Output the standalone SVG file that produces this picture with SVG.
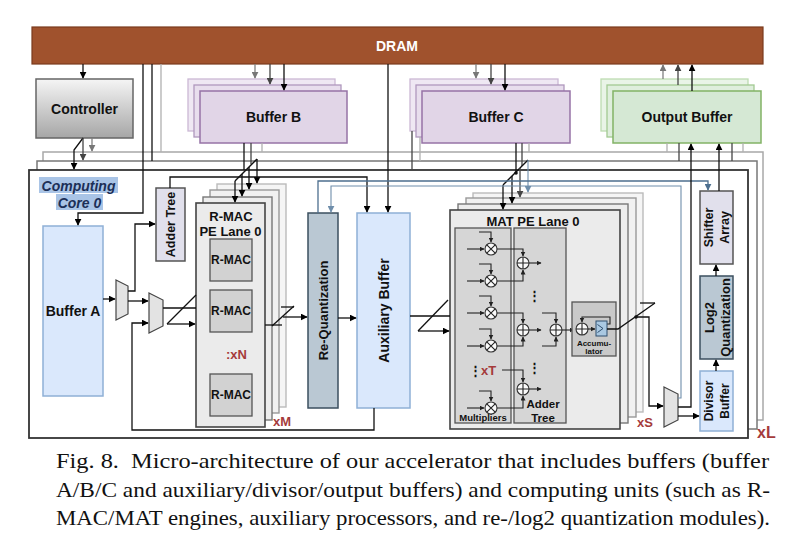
<svg xmlns="http://www.w3.org/2000/svg" width="804" height="557" viewBox="0 0 804 557">
<defs>
<linearGradient id="ctrlGrad" x1="0" y1="0" x2="0" y2="1"><stop offset="0" stop-color="#f5f5f5"/><stop offset="1" stop-color="#a6a6a6"/></linearGradient>
<marker id="ab" viewBox="0 0 10 10" refX="9" refY="5" markerWidth="7" markerHeight="7" markerUnits="userSpaceOnUse" orient="auto"><path d="M0,0 L10,5 L0,10 z" fill="#000"/></marker>
<marker id="ag" viewBox="0 0 10 10" refX="9" refY="5" markerWidth="7" markerHeight="7" markerUnits="userSpaceOnUse" orient="auto"><path d="M0,0 L10,5 L0,10 z" fill="#777"/></marker>
<marker id="ad" viewBox="0 0 10 10" refX="9" refY="5" markerWidth="7" markerHeight="7" markerUnits="userSpaceOnUse" orient="auto"><path d="M0,0 L10,5 L0,10 z" fill="#444"/></marker>
<marker id="abl" viewBox="0 0 10 10" refX="9" refY="5" markerWidth="7" markerHeight="7" markerUnits="userSpaceOnUse" orient="auto"><path d="M0,0 L10,5 L0,10 z" fill="#4d6f8f"/></marker>
<marker id="abl2" viewBox="0 0 10 10" refX="9" refY="5" markerWidth="7" markerHeight="7" markerUnits="userSpaceOnUse" orient="auto"><path d="M0,0 L10,5 L0,10 z" fill="#6f8eab"/></marker>
<marker id="as" viewBox="0 0 10 10" refX="9" refY="5" markerWidth="5" markerHeight="5" markerUnits="userSpaceOnUse" orient="auto"><path d="M0,0 L10,5 L0,10 z" fill="#222"/></marker>
<style>
.t{font-family:"Liberation Sans",Arial,sans-serif;font-weight:bold;fill:#111;text-anchor:middle;dominant-baseline:central}
.red{font-family:"Liberation Sans",Arial,sans-serif;font-weight:bold;fill:#a53b3b;dominant-baseline:central}
.w{fill:none;stroke:#111;stroke-width:1.3}
.g{fill:none;stroke:#808080;stroke-width:1.3}
.lg{fill:none;stroke:#b0b0b0;stroke-width:1.3}
.dg{fill:none;stroke:#444;stroke-width:1.3}
.bl{fill:none;stroke:#4d6f8f;stroke-width:1.3}
.bl2{fill:none;stroke:#6f8eab;stroke-width:1.1}
.mux{fill:#e3e3e3;stroke:#444;stroke-width:1.2}
.op{fill:#fafafa;stroke:#333;stroke-width:1.1}
.iw{fill:none;stroke:#222;stroke-width:1.1}
.cap{font-family:"Liberation Serif","Times New Roman",serif;font-size:21.5px;fill:#111;white-space:pre}
</style>
</defs>
<rect width="804" height="557" fill="#fff"/>

<g id="core-frames">
<rect x="43" y="152" width="720" height="268" fill="#fff" stroke="#a8a8a8" stroke-width="1.5"/>
<rect x="37" y="161" width="720" height="268" fill="#fff" stroke="#777" stroke-width="1.5"/>
<rect x="29" y="170" width="719" height="268" fill="#fff" stroke="#333" stroke-width="1.8"/>
</g>

<g id="dram">
<rect x="32" y="27" width="731" height="37" fill="#a0522d" stroke="#7a3b1d" stroke-width="1.2"/>
<text class="t" x="397" y="45.5" font-size="14" style="fill:#fff">DRAM</text>
</g>

<g id="controller">
<rect x="36" y="79" width="97" height="59" fill="url(#ctrlGrad)" stroke="#666" stroke-width="1.5"/>
<text class="t" x="84.5" y="108.5" font-size="14">Controller</text>
</g>

<g id="buffer-b">
<rect x="188" y="79" width="147" height="52" fill="#efe8f3" stroke="#cbb8d5" stroke-width="1.3"/>
<rect x="194" y="85" width="147" height="52" fill="#e8deed" stroke="#b098bd" stroke-width="1.3"/>
<rect x="200" y="91" width="147" height="52" fill="#e1d5e7" stroke="#9673a6" stroke-width="1.5"/>
<text class="t" x="273.5" y="117" font-size="14">Buffer B</text>
</g>

<g id="buffer-c">
<rect x="410" y="79" width="148" height="52" fill="#efe8f3" stroke="#cbb8d5" stroke-width="1.3"/>
<rect x="416" y="85" width="148" height="52" fill="#e8deed" stroke="#b098bd" stroke-width="1.3"/>
<rect x="422" y="91" width="148" height="52" fill="#e1d5e7" stroke="#9673a6" stroke-width="1.5"/>
<text class="t" x="496" y="117" font-size="14">Buffer C</text>
</g>

<g id="output-buffer">
<rect x="601" y="79" width="147" height="52" fill="#e9f4e7" stroke="#bedcb1" stroke-width="1.3"/>
<rect x="607" y="85" width="147" height="52" fill="#dfeedd" stroke="#a2ca92" stroke-width="1.3"/>
<rect x="613" y="91" width="148" height="52" fill="#d5e8d4" stroke="#82b366" stroke-width="1.5"/>
<text class="t" x="687" y="117" font-size="14">Output Buffer</text>
</g>

<g id="core-label">
<rect x="39" y="177" width="79" height="16" fill="#a9c4e6"/>
<rect x="56" y="194" width="47" height="16" fill="#a9c4e6"/>
<text class="t" x="78.5" y="185.5" font-size="14" font-style="italic" style="fill:#1c2f57">Computing</text>
<text class="t" x="79.5" y="202.5" font-size="14" font-style="italic" style="fill:#1c2f57">Core 0</text>
</g>

<g id="buffer-a">
<rect x="43" y="226" width="60" height="170" fill="#dae8fc" stroke="#8fb0d6" stroke-width="1.5"/>
<text class="t" x="73" y="311" font-size="14">Buffer A</text>
</g>

<g id="mux-1"><polygon class="mux" points="116,280 128,286 128,314 116,320"/></g>
<g id="mux-2"><polygon class="mux" points="149,293 163,300 163,326 149,333"/></g>

<g id="adder-tree-a">
<rect x="156" y="188" width="29" height="73" fill="#e1e0ec" stroke="#555" stroke-width="1.5"/>
<text class="t" font-size="12.5" transform="translate(170.5,224.5) rotate(-90)">Adder Tree</text>
</g>

<g id="rmac-lanes">
<rect x="217" y="184" width="69" height="223" fill="#f5f5f5" stroke="#bbb" stroke-width="1.4"/>
<rect x="210" y="190" width="69" height="223" fill="#f1f1f1" stroke="#999" stroke-width="1.4"/>
<rect x="203" y="197" width="69" height="223" fill="#ededed" stroke="#777" stroke-width="1.4"/>
<rect x="196" y="203" width="69" height="224" fill="#ebebeb" stroke="#444" stroke-width="1.6"/>
<text class="t" x="231" y="216" font-size="13">R-MAC</text>
<text class="t" x="230.5" y="231" font-size="13">PE Lane 0</text>
<rect x="210" y="239" width="42" height="42" fill="#d2d2d2" stroke="#555" stroke-width="1.3"/>
<text class="t" x="231" y="260" font-size="12">R-MAC</text>
<rect x="210" y="290" width="42" height="42" fill="#d2d2d2" stroke="#555" stroke-width="1.3"/>
<text class="t" x="231" y="311" font-size="12">R-MAC</text>
<rect x="210" y="374" width="42" height="42" fill="#d2d2d2" stroke="#555" stroke-width="1.3"/>
<text class="t" x="231" y="395" font-size="12">R-MAC</text>
<text class="red" x="226" y="354" font-size="13">:xN</text>
<text class="red" x="273" y="421" font-size="13">xM</text>
</g>

<g id="re-quantization">
<rect x="308" y="213" width="30" height="195" fill="#bac8d3" stroke="#3b4f5f" stroke-width="1.5"/>
<text class="t" font-size="13" transform="translate(323,310.5) rotate(-90)">Re-Quantization</text>
</g>

<g id="auxiliary-buffer">
<rect x="357" y="213" width="53" height="195" fill="#dae8fc" stroke="#8fb0d6" stroke-width="1.5"/>
<text class="t" font-size="14" transform="translate(383.5,310.5) rotate(-90)">Auxiliary Buffer</text>
</g>

<g id="mat-lanes">
<rect x="473" y="193" width="170" height="219" fill="#f5f5f5" stroke="#bbb" stroke-width="1.4"/>
<rect x="466" y="198" width="170" height="219" fill="#f1f1f1" stroke="#999" stroke-width="1.4"/>
<rect x="458" y="204" width="170" height="219" fill="#ededed" stroke="#777" stroke-width="1.4"/>
<rect x="450" y="210" width="170" height="219" fill="#ebebeb" stroke="#444" stroke-width="1.6"/>
<text class="t" x="533" y="221" font-size="13">MAT PE Lane 0</text>
<rect x="455" y="228" width="56" height="195" fill="#d6d6d6" stroke="#555" stroke-width="1.3"/>
<rect x="514" y="228" width="52" height="195" fill="#d6d6d6" stroke="#555" stroke-width="1.3"/>
<text class="t" x="483" y="417" font-size="9.5">Multipliers</text>
<text class="t" x="543" y="404" font-size="11.5">Adder</text>
<text class="t" x="543" y="418" font-size="11.5">Tree</text>
<g>
<path class="iw" d="M467,249 H484" marker-end="url(#as)"/><path class="iw" d="M479,232 H491 V242" marker-end="url(#as)"/>
<path class="iw" d="M467,281 H484" marker-end="url(#as)"/><path class="iw" d="M479,264 H491 V274" marker-end="url(#as)"/>
<path class="iw" d="M467,313 H484" marker-end="url(#as)"/><path class="iw" d="M479,296 H491 V306" marker-end="url(#as)"/>
<path class="iw" d="M467,346 H484" marker-end="url(#as)"/><path class="iw" d="M479,329 H491 V339" marker-end="url(#as)"/>
<path class="iw" d="M467,408 H484" marker-end="url(#as)"/><path class="iw" d="M479,391 H491 V401" marker-end="url(#as)"/>
<path class="iw" d="M497,249 H523 V256" marker-end="url(#as)"/>
<path class="iw" d="M497,281 H523 V270" marker-end="url(#as)"/>
<path class="iw" d="M529,263 H541" marker-end="url(#as)"/>
<path class="iw" d="M497,313 H523 V323" marker-end="url(#as)"/>
<path class="iw" d="M497,346 H523 V337" marker-end="url(#as)"/>
<path class="iw" d="M529,330 H541" marker-end="url(#as)"/>
<path class="iw" d="M542,313 H556 V323" marker-end="url(#as)"/>
<path class="iw" d="M542,346 H556 V337" marker-end="url(#as)"/>
<path class="iw" d="M562,330 H574" marker-end="url(#as)"/>
<path class="iw" d="M502,370 H523 V382" marker-end="url(#as)"/>
<path class="iw" d="M497,408 H523 V396" marker-end="url(#as)"/>
<path class="iw" d="M529,389 H541" marker-end="url(#as)"/>
</g>
<g>
<circle class="op" cx="491" cy="249" r="6"/><path class="iw" d="M486.8,244.8 L495.2,253.2 M495.2,244.8 L486.8,253.2"/>
<circle class="op" cx="491" cy="281" r="6"/><path class="iw" d="M486.8,276.8 L495.2,285.2 M495.2,276.8 L486.8,285.2"/>
<circle class="op" cx="491" cy="313" r="6"/><path class="iw" d="M486.8,308.8 L495.2,317.2 M495.2,308.8 L486.8,317.2"/>
<circle class="op" cx="491" cy="346" r="6"/><path class="iw" d="M486.8,341.8 L495.2,350.2 M495.2,341.8 L486.8,350.2"/>
<circle class="op" cx="491" cy="408" r="6"/><path class="iw" d="M486.8,403.8 L495.2,412.2 M495.2,403.8 L486.8,412.2"/>
<circle class="op" cx="523" cy="263" r="6"/><path class="iw" d="M517,263 H529 M523,257 V269"/>
<circle class="op" cx="523" cy="330" r="6"/><path class="iw" d="M517,330 H529 M523,324 V336"/>
<circle class="op" cx="523" cy="389" r="6"/><path class="iw" d="M517,389 H529 M523,383 V395"/>
<circle class="op" cx="556" cy="330" r="6"/><path class="iw" d="M550,330 H562 M556,324 V336"/>
</g>
<text class="t" x="475" y="370" font-size="13">⋮</text>
<text class="red" x="481" y="370" font-size="13">xT</text>
<text class="t" x="534" y="295" font-size="13">⋮</text>
<text class="t" x="534" y="367" font-size="13">⋮</text>
<text class="red" x="637" y="422" font-size="13">xS</text>
</g>

<g id="accumulator">
<rect x="572" y="302" width="44" height="54" fill="#c9c9c9" stroke="#555" stroke-width="1.3"/>
<circle class="op" cx="582" cy="329" r="6"/><path class="iw" d="M576,329 H588 M582,323 V335"/>
<path class="iw" d="M588,329 H595" marker-end="url(#as)"/>
<path class="iw" d="M607,324 H610 V317 H582 V322" marker-end="url(#as)"/>
<rect x="596" y="321" width="11" height="15" fill="#a9c8e2" stroke="#2f4f6f" stroke-width="1"/>
<path d="M597.5,324.5 L603,328.5 L597.5,332.5" fill="none" stroke="#2f4f6f" stroke-width="1"/>
<text class="t" x="594" y="343" font-size="8">Accumu-</text>
<text class="t" x="594" y="351.5" font-size="8">lator</text>
</g>

<g id="mux-3"><polygon class="mux" points="664,387 678,394 678,420 664,427"/></g>

<g id="shifter-array">
<rect x="700" y="191" width="33" height="73" fill="#e1e0ec" stroke="#555" stroke-width="1.5"/>
<text class="t" font-size="12.5" transform="translate(716.5,227.5) rotate(-90)"><tspan x="0" y="-8">Shifter</tspan><tspan x="0" y="8">Array</tspan></text>
</g>

<g id="log2-quantization">
<rect x="700" y="276" width="33" height="83" fill="#bac8d3" stroke="#3b4f5f" stroke-width="1.5"/>
<text class="t" font-size="13" transform="translate(716.5,317.5) rotate(-90)"><tspan x="0" y="-8">Log2</tspan><tspan x="0" y="8">Quantization</tspan></text>
</g>

<g id="divisor-buffer">
<rect x="700" y="371" width="33" height="60" fill="#dae8fc" stroke="#8fb0d6" stroke-width="1.5"/>
<text class="t" font-size="12" transform="translate(716.5,401) rotate(-90)"><tspan x="0" y="-8">Divisor</tspan><tspan x="0" y="8">Buffer</tspan></text>
</g>

<g id="xl-label"><text class="red" x="757" y="432" font-size="16">xL</text></g>

<g id="connectors">
<path class="w" d="M83,64 V78" marker-end="url(#ab)"/>
<path class="g" d="M255,64 V78" marker-end="url(#ag)"/>
<path class="dg" d="M270,64 V84" marker-end="url(#ad)"/>
<path class="w" d="M284,64 V90" marker-end="url(#ab)"/>
<path class="g" d="M476,64 V78" marker-end="url(#ag)"/>
<path class="dg" d="M491,64 V84" marker-end="url(#ad)"/>
<path class="w" d="M505,64 V90" marker-end="url(#ab)"/>
<path class="g" d="M663,79 V65" marker-end="url(#ag)"/>
<path class="dg" d="M678,85 V65" marker-end="url(#ad)"/>
<path class="w" d="M692,91 V65" marker-end="url(#ab)"/>
<path class="w" d="M143,64 V213 H78 V225" marker-end="url(#ab)"/>
<path class="w" d="M152,64 V161"/>
<path class="lg" d="M161,64 V152"/>
<path class="w" d="M388,64 V212" marker-end="url(#ab)"/>
<path class="w" d="M83,138 L74,150 V169" marker-end="url(#ab)"/>
<path class="dg" d="M83,138 V160" marker-end="url(#ad)"/>
<path class="g" d="M92,138 V151" marker-end="url(#ag)"/>
<path class="w" d="M244,143 V170"/>
<path class="dg" d="M251,143 V164"/>
<path class="lg" d="M262,143 V152"/>
<path class="w" d="M257,159 L235,181"/>
<path class="w" d="M235,181 V202" marker-end="url(#ab)"/>
<path class="w" d="M242,174 V196" marker-end="url(#ab)"/>
<path class="w" d="M249,167 V189" marker-end="url(#ab)"/>
<path class="w" d="M257,159 V183" marker-end="url(#ab)"/>
<path class="dg" d="M412,131 V170"/>
<path class="lg" d="M420,137 V161"/>
<path class="w" d="M516,143 V173"/>
<path class="dg" d="M522,143 V166"/>
<path class="lg" d="M529,143 V152"/>
<path class="w" d="M528,160 L503,185"/>
<circle cx="516" cy="173" r="1.8" fill="#111"/>
<path class="w" d="M503,185 V209" marker-end="url(#ab)"/>
<path class="w" d="M512,176 V203" marker-end="url(#ab)"/>
<path class="dg" d="M520,168 V197" marker-end="url(#ad)"/>
<path class="bl2" d="M528,160 V192" marker-end="url(#abl2)"/>
<path class="lg" d="M667,143 V152"/>
<path class="dg" d="M679,143 V161"/>
<path class="dg" d="M732,143 V161"/>
<path class="lg" d="M743,143 V152"/>
<path class="w" d="M170,188 V177 H367 V212" marker-end="url(#ab)"/>
<path class="bl" d="M318,213 V181 H708 V190" marker-end="url(#abl)"/>
<path class="bl2" d="M678,398 H681 V186 H331 V212" marker-end="url(#abl2)"/>
<path class="w" d="M103,299 H115" marker-end="url(#ab)"/>
<path class="w" d="M128,291 H135 V224 H155" marker-end="url(#ab)"/>
<path class="w" d="M128,301 H148" marker-end="url(#ab)"/>
<path class="w" d="M374,408 V430 H132 V323 H148" marker-end="url(#ab)"/>
<path class="w" d="M163,308 H196"/>
<path class="w" d="M196,295 L167,324"/>
<path class="w" d="M167,324 H195" marker-end="url(#ab)"/>
<path class="w" d="M265,325 H282"/>
<path class="w" d="M272,326 L294,306"/>
<path class="w" d="M281,307 H294"/>
<path class="w" d="M283,317 H307" marker-end="url(#ab)"/>
<path class="w" d="M338,318 H356" marker-end="url(#ab)"/>
<path class="w" d="M410,316 H450"/>
<path class="w" d="M448,300 L418,331"/>
<path class="w" d="M418,331 H449" marker-end="url(#ab)"/>
<path class="w" d="M607,329 H618 L655,303"/>
<path class="w" d="M640,303 H655"/>
<path class="w" d="M636,317 H649 V406 H663" marker-end="url(#ab)"/>
<circle cx="636" cy="317" r="1.8" fill="#111"/>
<path class="w" d="M678,407 H691 V144" marker-end="url(#ab)"/>
<path class="w" d="M678,416 H699" marker-end="url(#ab)"/>
<path class="w" d="M716,371 V360" marker-end="url(#ab)"/>
<path class="w" d="M716,276 V265" marker-end="url(#ab)"/>
<path class="w" d="M719,191 V144" marker-end="url(#ab)"/>
</g>

<g id="caption">
<text class="cap" x="56" y="468" textLength="713" lengthAdjust="spacingAndGlyphs">Fig. 8.  Micro-architecture of our accelerator that includes buffers (buffer</text>
<text class="cap" x="56" y="497" textLength="714" lengthAdjust="spacingAndGlyphs">A/B/C and auxiliary/divisor/output buffers) and computing units (such as R-</text>
<text class="cap" x="56" y="525" textLength="714" lengthAdjust="spacingAndGlyphs">MAC/MAT engines, auxiliary processors, and re-/log2 quantization modules).</text>
</g>
</svg>
